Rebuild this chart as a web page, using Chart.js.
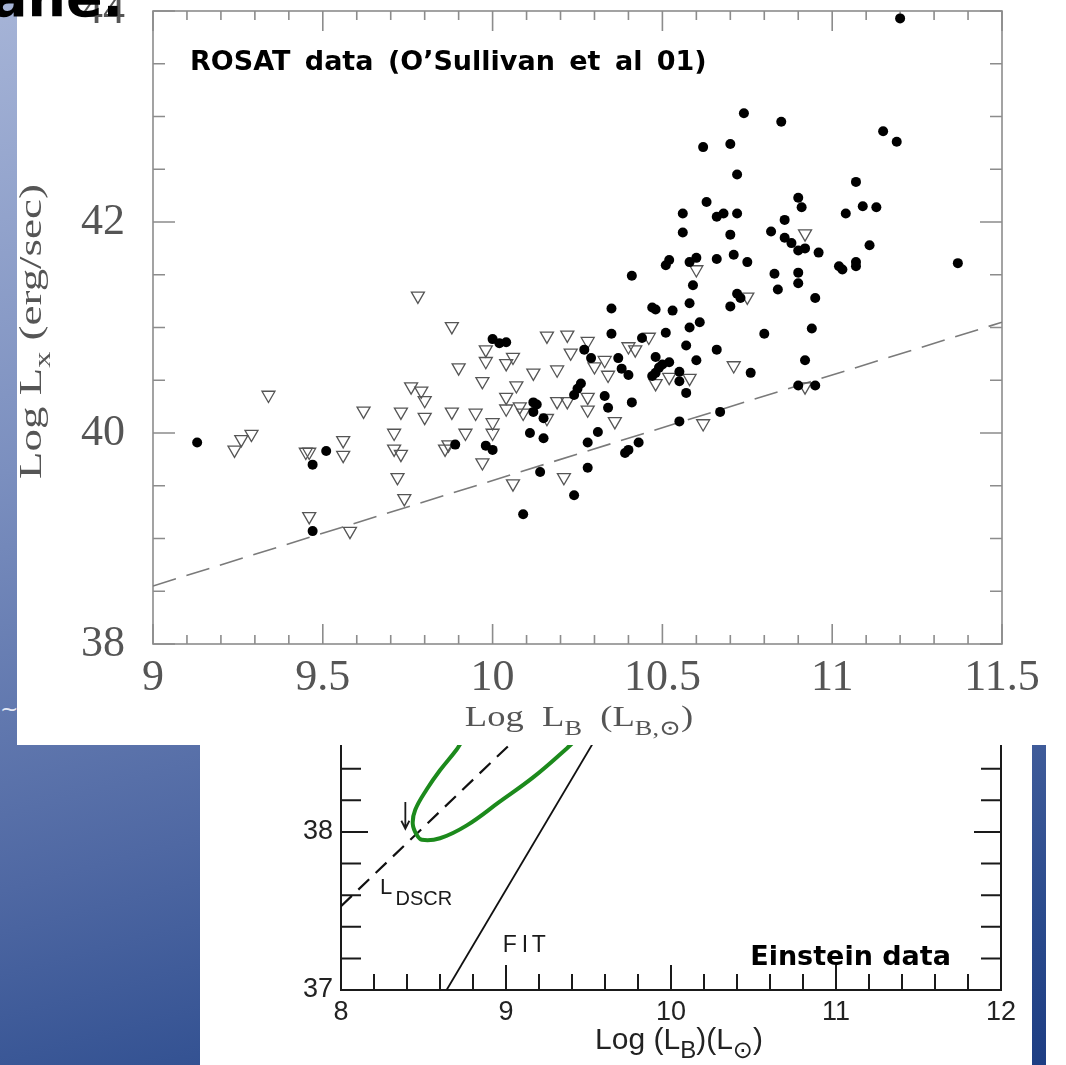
<!DOCTYPE html>
<html>
<head>
<meta charset="utf-8">
<script src="https://cdn.jsdelivr.net/npm/chart.js@4.4.1/dist/chart.umd.min.js"></script>
<style>
  html, body { margin: 0; padding: 0; }
  body {
    width: 1066px; height: 1065px; position: relative; overflow: hidden;
    background: linear-gradient(165deg, #a6b4d7 0%, #7b8fbf 35%, #4f68a3 66%, #2b4b8d 88%, #1d3d83 100%);
  }
  .panel { position: absolute; background: #fff; }
  #topPanel { left: 17px; top: 0; width: 1049px; height: 745px; }
  #bottomPanel { left: 200px; top: 745px; width: 832px; height: 320px; }
  #cornerPanel { left: 1046px; top: 745px; width: 20px; height: 320px; }
  #rosatCanvas { position: absolute; left: 17px; top: 0; z-index: 1; }
  #einsteinCanvas { position: absolute; left: 200px; top: 745px; z-index: 1; }
  #slideTitle {
    position: absolute; left: -9px; top: -29px; z-index: 3;
    font: bold 54px 'DejaVu Sans'; line-height: 54px; color: #000;
  }
  #tilde { position: absolute; left: 0; top: 696px; font: 22px 'DejaVu Sans'; color: #e4e8f4; }
</style>
</head>
<body>
<div class="panel" id="topPanel"></div>
<div class="panel" id="bottomPanel"></div>
<div class="panel" id="cornerPanel"></div>
<canvas id="rosatCanvas" width="1049" height="745"></canvas>
<canvas id="einsteinCanvas" width="832" height="320"></canvas>
<div id="slideTitle">ane.</div>
<div id="tilde">~</div>

<script>
// --- ROSAT panel data (log L_B, log L_X) ---
// detections, filled circles
const detLogLB = [9.13, 9.47, 9.47, 9.51, 9.89, 9.98, 10.00, 10.00, 10.02, 10.04,
  10.09, 10.11, 10.12, 10.13, 10.12, 10.14, 10.15, 10.15, 10.24, 10.24,
  10.25, 10.26, 10.27, 10.28, 10.28, 10.29, 10.31, 10.33, 10.34, 10.35,
  10.35, 10.37, 10.38, 10.39, 10.40, 10.40, 10.41, 10.41, 10.43, 10.44,
  10.47, 10.48, 10.48, 10.47, 10.48, 10.49, 10.50, 10.51, 10.52, 10.51,
  10.52, 10.53, 10.55, 10.55, 10.55, 10.56, 10.56, 10.57, 10.57, 10.58,
  10.58, 10.58, 10.59, 10.60, 10.60, 10.61, 10.62, 10.63, 10.66, 10.68,
  10.66, 10.66, 10.67, 10.70, 10.70, 10.70, 10.71, 10.72, 10.72, 10.72,
  10.73, 10.74, 10.75, 10.76, 10.80, 10.82, 10.83, 10.84, 10.85, 10.86,
  10.86, 10.88, 10.90, 10.91, 10.90, 10.92, 10.90, 10.90, 10.92, 10.90,
  10.95, 10.94, 10.95, 10.96, 11.02, 11.03, 11.04, 11.07, 11.07, 11.07,
  11.09, 11.11, 11.13, 11.15, 11.19, 11.20, 11.37];
const detLogLX = [39.91, 39.70, 39.07, 39.83, 39.89, 39.88, 39.84, 40.89, 40.85, 40.86,
  39.23, 40.00, 40.29, 40.27, 40.20, 39.63, 39.95, 40.14, 39.41, 40.36,
  40.42, 40.47, 40.79, 39.91, 39.67, 40.71, 40.01, 40.35, 40.24, 41.18,
  40.94, 40.71, 40.61, 39.81, 39.84, 40.55, 41.49, 40.29, 39.91, 40.90,
  41.19, 41.17, 40.72, 40.54, 40.57, 40.62, 40.65, 41.59, 41.64, 40.95,
  40.67, 41.16, 40.58, 40.49, 40.11, 42.08, 41.90, 40.83, 40.38, 41.62,
  41.23, 41.00, 41.40, 41.66, 40.69, 41.05, 42.71, 42.19, 42.05, 42.08,
  41.65, 40.79, 40.20, 42.74, 41.88, 41.20, 41.69, 42.45, 42.08, 41.32,
  41.28, 43.03, 41.62, 40.57, 40.94, 41.91, 41.51, 41.36, 42.95, 42.02,
  41.85, 41.80, 42.23, 42.14, 41.73, 41.75, 41.52, 41.42, 40.69, 40.45,
  40.45, 40.99, 41.28, 41.71, 41.58, 41.55, 42.08, 41.62, 41.58, 42.38,
  42.15, 41.78, 42.14, 42.86, 42.76, 43.93, 41.61];

// upper limits, open triangles
const limLogLB = [9.24, 9.26, 9.29, 9.34, 9.45, 9.46, 9.46, 9.56, 9.56, 9.58,
  9.62, 9.71, 9.71, 9.73, 9.72, 9.74, 9.73, 9.76, 9.79, 9.80,
  9.80, 9.78, 9.86, 9.87, 9.88, 9.88, 9.90, 9.92, 9.95, 9.97,
  9.97, 9.98, 9.98, 10.00, 10.00, 10.04, 10.04, 10.04, 10.06, 10.06,
  10.07, 10.08, 10.09, 10.12, 10.16, 10.16, 10.19, 10.19, 10.21, 10.22,
  10.23, 10.22, 10.28, 10.28, 10.28, 10.30, 10.33, 10.34, 10.36, 10.40,
  10.42, 10.46, 10.48, 10.52, 10.58, 10.60, 10.62, 10.71, 10.75, 10.92, 10.92];
const limLogLX = [39.84, 39.94, 39.99, 40.36, 39.82, 39.82, 39.21, 39.93, 39.79, 39.07,
  40.21, 40.00, 39.85, 39.80, 39.58, 39.38, 40.20, 40.44, 40.40, 40.31,
  40.15, 41.30, 39.85, 39.89, 40.20, 41.01, 40.62, 40.00, 40.19, 39.72,
  40.49, 40.79, 40.68, 40.10, 40.00, 40.34, 40.23, 40.66, 40.72, 39.52,
  40.45, 40.25, 40.19, 40.57, 40.92, 40.14, 40.30, 40.60, 39.58, 40.93,
  40.76, 40.30, 40.87, 40.34, 40.22, 40.63, 40.69, 40.55, 40.11, 40.82,
  40.79, 40.91, 40.47, 40.53, 40.52, 41.55, 40.09, 40.64, 41.29, 41.89, 40.44];

// dashed discrete-source line
const dscrLineLB = [9, 11.5];
const dscrLineLX = [38.55, 41.05];

const rosatTicksX = [9, 9.5, 10, 10.5, 11, 11.5];
const rosatTicksY = [38, 40, 42, 44];

// --- Einstein panel data ---
const einDscrLB = [8, 9.2];
const einDscrLX = [37.53, 38.73];
const einFitLB = [8.64, 9.6];
const einFitLX = [37.0, 38.69];
// green hand-drawn loop
const loopLB = [8.73, 8.70, 8.60, 8.52, 8.45, 8.435, 8.46, 8.49, 8.60, 8.76, 8.96, 9.17, 9.37, 9.42];
const loopLX = [38.57, 38.52, 38.39, 38.27, 38.14, 38.05, 37.98, 37.95, 37.96, 38.04, 38.19, 38.35, 38.53, 38.58];
// small arrow marking the limit
const arrowLB = [8.39, 8.39];
const arrowLX = [38.19, 38.02];

const einTicksX = [8, 9, 10, 11, 12];
const einTicksY = [37, 38];

const pts = (xs, ys) => xs.map((x, i) => ({ x: x, y: ys[i] }));

const SERIF = "'Liberation Serif', 'DejaVu Serif', serif";
const SANS = "'Liberation Sans', 'DejaVu Sans', sans-serif";
const HAND = "'DejaVu Sans', sans-serif";

// draws text made of plain / subscript parts, centred on (x, y) baseline
function drawRich(ctx, parts, x, y, size, family, color, opts = {}) {
  const subScale = opts.subScale || 0.72;
  const stretch = opts.stretch || 1;
  ctx.save();
  ctx.translate(x, y);
  if (opts.angle) ctx.rotate(opts.angle);
  ctx.scale(stretch, 1);
  ctx.fillStyle = color;
  ctx.textBaseline = 'alphabetic';
  ctx.textAlign = 'left';
  const widths = parts.map(([t, sub]) => {
    ctx.font = (sub ? size * subScale : size) + 'px ' + family;
    return ctx.measureText(t).width;
  });
  const total = widths.reduce((s, w) => s + w, 0);
  let cx = opts.left ? 0 : -total / 2;
  parts.forEach(([t, sub], i) => {
    ctx.font = (sub ? size * subScale : size) + 'px ' + family;
    ctx.fillText(t, cx, sub ? size * 0.3 : 0);
    cx += widths[i];
  });
  ctx.restore();
}

// --- ROSAT chart decorations: frame, inward ticks, titles ---
const rosatDecor = {
  id: 'rosatDecor',
  beforeDatasetsDraw(chart) {
    const { ctx, chartArea: a, scales: { x, y } } = chart;
    ctx.save();
    ctx.strokeStyle = '#8c8c8c';
    ctx.lineWidth = 1.6;
    ctx.strokeRect(a.left, a.top, a.right - a.left, a.bottom - a.top);
    ctx.beginPath();
    for (let i = 0; i <= 25; i++) {
      const px = x.getPixelForValue(9 + i * 0.1);
      const len = i % 5 === 0 ? 20 : 9;
      ctx.moveTo(px, a.bottom); ctx.lineTo(px, a.bottom - len);
      ctx.moveTo(px, a.top); ctx.lineTo(px, a.top + len);
    }
    for (let i = 0; i <= 12; i++) {
      const py = y.getPixelForValue(38 + i * 0.5);
      const len = i % 4 === 0 ? 22 : 12;
      ctx.moveTo(a.left, py); ctx.lineTo(a.left + len, py);
      ctx.moveTo(a.right, py); ctx.lineTo(a.right - len, py);
    }
    ctx.stroke();
    ctx.restore();

    drawRich(ctx, [['Log L', 0], ['x', 1], [' (erg/sec)', 0]],
      24, (a.top + a.bottom) / 2 + 4, 31, SERIF, '#555', { angle: -Math.PI / 2, stretch: 1.45 });
    drawRich(ctx, [['Log  L', 0], ['B', 1], ['  (L', 0], ['B,\u2299', 1], [')', 0]],
      562, 726, 30, SERIF, '#555', { stretch: 1.22 });

    ctx.save();
    ctx.font = 'bold 27px ' + HAND;
    ctx.fillStyle = '#000';
    if ('wordSpacing' in ctx) ctx.wordSpacing = '5px';
    ctx.fillText('ROSAT data (O\u2019Sullivan et al 01)', 173, 70);
    ctx.restore();
  }
};

new Chart(document.getElementById('rosatCanvas'), {
  type: 'scatter',
  data: {
    datasets: [
      {
        label: 'Detections',
        data: pts(detLogLB, detLogLX),
        pointStyle: 'circle',
        pointRadius: 5,
        backgroundColor: '#000',
        borderColor: '#000',
        borderWidth: 0
      },
      {
        label: 'Upper limits',
        data: pts(limLogLB, limLogLX),
        pointStyle: 'triangle',
        rotation: 180,
        pointRadius: 7.5,
        backgroundColor: 'rgba(0,0,0,0)',
        borderColor: '#555',
        borderWidth: 1.3
      },
      {
        label: 'L_DSCR',
        data: pts(dscrLineLB, dscrLineLX),
        showLine: true,
        pointRadius: 0,
        borderColor: '#7a7a7a',
        borderWidth: 1.6,
        borderDash: [24, 11]
      }
    ]
  },
  options: {
    responsive: false,
    animation: false,
    layout: { padding: { top: 11, right: 64, left: 0, bottom: 0 } },
    plugins: { legend: { display: false }, tooltip: { enabled: false } },
    scales: {
      x: {
        type: 'linear', min: 9, max: 11.5,
        grid: { display: false, drawTicks: false },
        border: { display: false },
        afterBuildTicks: s => { s.ticks = rosatTicksX.map(v => ({ value: v })); },
        afterFit: s => { s.height = 101; s.paddingLeft = 0; s.paddingRight = 0; },
        ticks: {
          color: '#555', padding: 8, maxRotation: 0,
          font: { family: SERIF, size: 44 },
          callback: v => String(v)
        }
      },
      y: {
        type: 'linear', min: 38, max: 44,
        grid: { display: false, drawTicks: false },
        border: { display: false },
        afterBuildTicks: s => { s.ticks = rosatTicksY.map(v => ({ value: v })); },
        afterFit: s => { s.width = 136; s.paddingTop = 0; s.paddingBottom = 0; },
        ticks: { color: '#555', padding: 28, font: { family: SERIF, size: 44 }, callback: v => String(v) }
      }
    }
  },
  plugins: [rosatDecor]
});

// --- Einstein chart decorations ---
const einsteinDecor = {
  id: 'einsteinDecor',
  beforeDatasetsDraw(chart) {
    const { ctx, chartArea: a, scales: { x, y } } = chart;
    ctx.save();
    ctx.strokeStyle = '#1a1a1a';
    ctx.lineWidth = 2;
    ctx.beginPath();
    ctx.moveTo(a.left, a.top); ctx.lineTo(a.left, a.bottom);
    ctx.lineTo(a.right, a.bottom); ctx.lineTo(a.right, a.top);
    for (let i = 1; i < 20; i++) {
      const px = x.getPixelForValue(8 + i * 0.2);
      const len = i % 5 === 0 ? 25 : 16;
      ctx.moveTo(px, a.bottom); ctx.lineTo(px, a.bottom - len);
    }
    for (let i = 1; i <= 7; i++) {
      const py = y.getPixelForValue(37 + i * 0.2);
      const len = i % 5 === 0 ? 27 : 20;
      ctx.moveTo(a.left, py); ctx.lineTo(a.left + len, py);
      ctx.moveTo(a.right, py); ctx.lineTo(a.right - len, py);
    }
    ctx.stroke();

    // arrow
    const ax = x.getPixelForValue(arrowLB[0]);
    const ay0 = y.getPixelForValue(arrowLX[0]);
    const ay1 = y.getPixelForValue(arrowLX[1]);
    ctx.lineWidth = 1.8;
    ctx.beginPath();
    ctx.moveTo(ax, ay0); ctx.lineTo(ax, ay1);
    ctx.moveTo(ax - 4, ay1 - 8); ctx.lineTo(ax, ay1); ctx.lineTo(ax + 4, ay1 - 8);
    ctx.stroke();

    ctx.fillStyle = '#1a1a1a';
    ctx.textBaseline = 'alphabetic';
    ctx.font = '22px ' + SANS;
    ctx.fillText('L', x.getPixelForValue(8.236), y.getPixelForValue(37.61));
    ctx.font = '20px ' + SANS;
    ctx.fillText('DSCR', x.getPixelForValue(8.33), y.getPixelForValue(37.54));
    ctx.font = '23px ' + SANS;
    ['F', 'I', 'T'].forEach((c, i) => {
      ctx.fillText(c, x.getPixelForValue(8.98) + [0, 19, 29][i], y.getPixelForValue(37.24));
    });
    ctx.fillStyle = '#000';
    ctx.font = 'bold 27px ' + HAND;
    ctx.fillText('Einstein data', x.getPixelForValue(10.48), y.getPixelForValue(37.16));
    ctx.restore();

    drawRich(ctx, [['Log (L', 0], ['B', 1], [')(L', 0], ['\u2299', 1], [')', 0]],
      (a.left + a.right) / 2 + 8, 304, 30, SANS, '#222', { subScale: 0.8 });
  }
};

new Chart(document.getElementById('einsteinCanvas'), {
  type: 'scatter',
  data: {
    datasets: [
      {
        label: 'loop',
        data: pts(loopLB, loopLX),
        showLine: true,
        tension: 0.4,
        pointRadius: 0,
        borderColor: '#1c8a1c',
        borderWidth: 4
      },
      {
        label: 'L_DSCR',
        data: pts(einDscrLB, einDscrLX),
        showLine: true,
        pointRadius: 0,
        borderColor: '#111',
        borderWidth: 2.2,
        borderDash: [15, 9]
      },
      {
        label: 'FIT',
        data: pts(einFitLB, einFitLX),
        showLine: true,
        pointRadius: 0,
        borderColor: '#111',
        borderWidth: 1.8
      }
    ]
  },
  options: {
    responsive: false,
    animation: false,
    layout: { padding: { top: 0, right: 31, left: 0, bottom: 0 } },
    plugins: { legend: { display: false }, tooltip: { enabled: false } },
    scales: {
      x: {
        type: 'linear', min: 8, max: 12,
        grid: { display: false, drawTicks: false },
        border: { display: false },
        afterBuildTicks: s => { s.ticks = einTicksX.map(v => ({ value: v })); },
        afterFit: s => { s.height = 75; s.paddingLeft = 0; s.paddingRight = 0; },
        ticks: { color: '#222', padding: 6, maxRotation: 0, font: { family: SANS, size: 27 } }
      },
      y: {
        type: 'linear', min: 37, max: 38.55,
        grid: { display: false, drawTicks: false },
        border: { display: false },
        afterBuildTicks: s => { s.ticks = einTicksY.map(v => ({ value: v })); },
        afterFit: s => { s.width = 141; s.paddingTop = 0; s.paddingBottom = 0; },
        ticks: { color: '#222', padding: 8, font: { family: SANS, size: 27 } }
      }
    }
  },
  plugins: [einsteinDecor]
});
</script>
</body>
</html>
